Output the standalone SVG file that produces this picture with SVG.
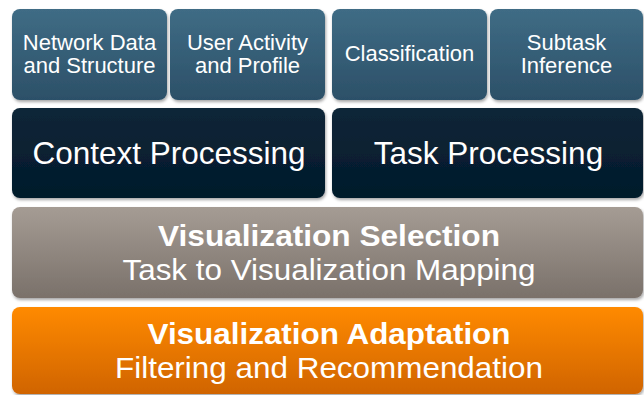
<svg xmlns="http://www.w3.org/2000/svg" width="644" height="395" viewBox="0 0 644 395">
<defs>
<linearGradient id="gTop" x1="0" y1="0" x2="0" y2="1"><stop offset="0" stop-color="#3f6c85"/><stop offset="1" stop-color="#2c5068"/></linearGradient>
<linearGradient id="gDark" x1="0" y1="0" x2="0" y2="1"><stop offset="0" stop-color="#0e2638"/><stop offset="1" stop-color="#021a2b"/></linearGradient>
<linearGradient id="gGray" x1="0" y1="0" x2="0" y2="1"><stop offset="0" stop-color="#a59c94"/><stop offset="1" stop-color="#7a716a"/></linearGradient>
<linearGradient id="gOrange" x1="0" y1="0" x2="0" y2="1"><stop offset="0" stop-color="#ff8a00"/><stop offset="1" stop-color="#d06400"/></linearGradient>
<filter id="sh" x="-5%" y="-5%" width="110%" height="115%"><feDropShadow dx="1" dy="2" stdDeviation="1.5" flood-color="#000" flood-opacity="0.35"/></filter>
<style>
rect{filter:url(#sh)}
text{font-family:"Liberation Sans",Arial,sans-serif;fill:#fff;text-anchor:middle}
.s{font-size:22px}
.m{font-size:31.5px}
.m2{font-size:30px}
.b{font-size:30px;font-weight:bold}
</style>
</defs>
<g id="network-data">
<rect x="12" y="9" width="155" height="91" rx="8" fill="url(#gTop)"/>
<text class="s" x="89.5" y="50">Network Data</text>
<text class="s" x="89.5" y="73">and Structure</text>
</g>
<g id="user-activity">
<rect x="170" y="9" width="155" height="91" rx="8" fill="url(#gTop)"/>
<text class="s" x="247.5" y="50">User Activity</text>
<text class="s" x="247.5" y="73">and Profile</text>
</g>
<g id="classification">
<rect x="332" y="9" width="155" height="91" rx="8" fill="url(#gTop)"/>
<text class="s" x="409.5" y="61">Classification</text>
</g>
<g id="subtask-inference">
<rect x="490" y="9" width="153" height="91" rx="8" fill="url(#gTop)"/>
<text class="s" x="566.5" y="50">Subtask</text>
<text class="s" x="566.5" y="73">Inference</text>
</g>
<g id="context-processing">
<rect x="12" y="108" width="313" height="90" rx="8" fill="url(#gDark)"/>
<text class="m" x="169" y="164">Context Processing</text>
</g>
<g id="task-processing">
<rect x="332" y="108" width="311" height="90" rx="8" fill="url(#gDark)"/>
<text class="m" x="488.5" y="164">Task Processing</text>
</g>
<g id="visualization-selection">
<rect x="12" y="207" width="631" height="91" rx="8" fill="url(#gGray)"/>
<text class="b" x="329" y="246" textLength="342" lengthAdjust="spacingAndGlyphs">Visualization Selection</text>
<text class="m2" x="329" y="280" textLength="413" lengthAdjust="spacingAndGlyphs">Task to Visualization Mapping</text>
</g>
<g id="visualization-adaptation">
<rect x="12" y="307" width="631" height="87" rx="8" fill="url(#gOrange)"/>
<text class="b" x="329" y="344" textLength="363" lengthAdjust="spacingAndGlyphs">Visualization Adaptation</text>
<text class="m2" x="329" y="378" textLength="428" lengthAdjust="spacingAndGlyphs">Filtering and Recommendation</text>
</g>
<g id="connectors"/>
</svg>
